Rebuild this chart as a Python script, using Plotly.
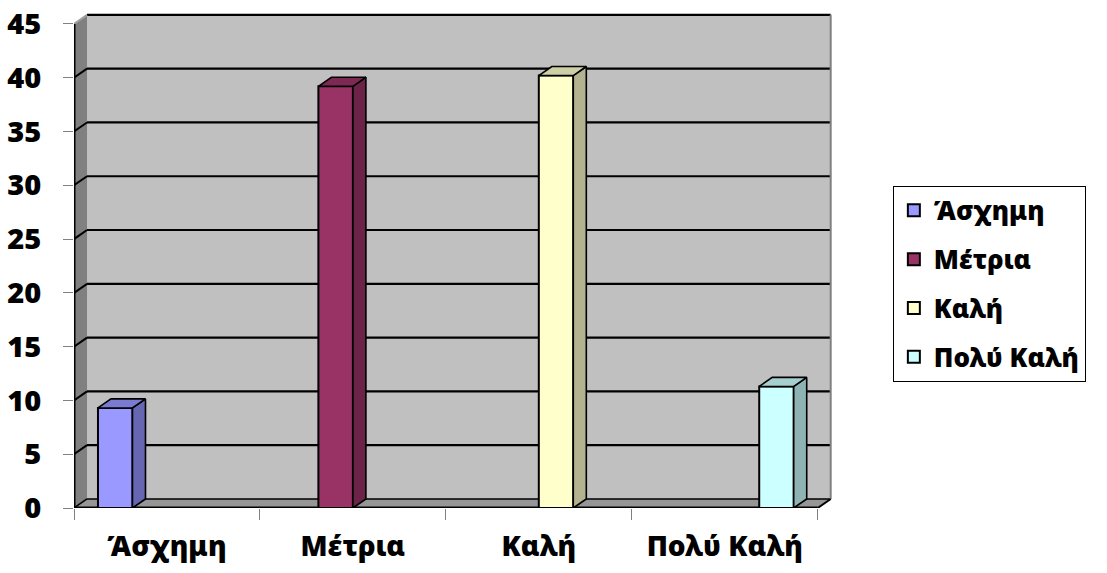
import plotly.graph_objects as go

# ---- data ----
categories = ["Άσχημη", "Μέτρια", "Καλή", "Πολύ Καλή"]
series_names = ["Άσχημη", "Μέτρια", "Καλή", "Πολύ Καλή"]
asxhmh = [9.3, None, None, None]
metria = [None, 39.2, None, None]
kali = [None, None, 40.2, None]
poly_kali = [None, None, None, 11.3]
series_values = [asxhmh, metria, kali, poly_kali]
y_ticks = [0, 5, 10, 15, 20, 25, 30, 35, 40, 45]

# ---- styling ----
front_colors = ["#9999FF", "#993366", "#FFFFCC", "#CCFFFF"]
side_colors = ["#6666B3", "#6B2447", "#B3B38F", "#8FB3B3"]
top_colors = ["#7A7AD1", "#7D2954", "#CFCFA6", "#A6CFCF"]
FONT = "Noto Sans"
WEIGHT = 900
DX, DY = 0.07, 0.84          # depth offset (x in category units, y in value units)
GAP = 0.258
W = (1 - GAP) / 4
START = -(1 - GAP) / 2
YMAX = y_ticks[-1]
XL, XR = -0.5, len(categories) - 0.5

xpos = list(range(len(categories)))

fig = go.Figure()

for k, (name, vals) in enumerate(zip(series_names, series_values)):
    off = START + k * W
    fig.add_trace(go.Bar(
        x=xpos, y=vals, name=name, width=W, offset=off,
        marker=dict(color=front_colors[k], line=dict(color="black", width=2)),
        legendgroup=name, hoverinfo="y",
    ))
    for xi, v in zip(xpos, vals):
        if v is None:
            continue
        x0 = xi + off
        x1 = x0 + W
        # side face
        fig.add_trace(go.Scatter(
            x=[x1, x1 + DX, x1 + DX, x1, x1], y=[0, DY, v + DY, v, 0],
            mode="lines", fill="toself", fillcolor=side_colors[k],
            line=dict(color="black", width=1.6), showlegend=False, hoverinfo="skip"))
        # top face
        fig.add_trace(go.Scatter(
            x=[x0, x0 + DX, x1 + DX, x1, x0], y=[v, v + DY, v + DY, v, v],
            mode="lines", fill="toself", fillcolor=top_colors[k],
            line=dict(color="black", width=1.6), showlegend=False, hoverinfo="skip"))

shapes = []
# back wall
shapes.append(dict(type="rect", xref="x", yref="y", x0=XL + DX, x1=XR + DX, y0=DY, y1=YMAX + DY,
                   fillcolor="#C0C0C0", line=dict(width=0), layer="below"))
# left wall
shapes.append(dict(type="path", xref="x", yref="y",
                   path=f"M {XL},0 L {XL+DX},{DY} L {XL+DX},{YMAX+DY} L {XL},{YMAX} Z",
                   fillcolor="#808080", line=dict(width=0), layer="below"))
# floor
shapes.append(dict(type="path", xref="x", yref="y",
                   path=f"M {XL},0 L {XR},0 L {XR+DX},{DY} L {XL+DX},{DY} Z",
                   fillcolor="#969696", line=dict(width=0), layer="below"))
# gridlines on back wall + diagonals on left wall
for v in y_ticks[1:]:
    shapes.append(dict(type="line", xref="x", yref="y", x0=XL + DX, x1=XR + DX, y0=v + DY, y1=v + DY,
                       line=dict(color="black", width=2.2), layer="below"))
    shapes.append(dict(type="line", xref="x", yref="y", x0=XL, x1=XL + DX, y0=v, y1=v + DY,
                       line=dict(color="black" if v < YMAX else "#A0A0A0", width=2), layer="below"))
# floor back edge
shapes.append(dict(type="line", xref="x", yref="y", x0=XL + DX, x1=XR + DX, y0=DY, y1=DY,
                   line=dict(color="black", width=1.5), layer="below"))
shapes.append(dict(type="line", xref="x", yref="y", x0=XL, x1=XL + DX, y0=0, y1=DY,
                   line=dict(color="black", width=1.5), layer="below"))
# back wall right edge
shapes.append(dict(type="line", xref="x", yref="y", x0=XR + DX, x1=XR + DX, y0=DY, y1=YMAX + DY,
                   line=dict(color="#808080", width=2), layer="below"))
# floor right diagonal
shapes.append(dict(type="line", xref="x", yref="y", x0=XR, x1=XR + DX, y0=0, y1=DY,
                   line=dict(color="black", width=2), layer="below"))
# front axes lines
shapes.append(dict(type="line", xref="x", yref="y", x0=XL, x1=XL, y0=0, y1=YMAX,
                   line=dict(color="black", width=3), layer="below"))
shapes.append(dict(type="line", xref="x", yref="y", x0=XL, x1=XR, y0=0, y1=0,
                   line=dict(color="black", width=3), layer="below"))

fig.update_layout(
    width=1107, height=573,
    margin=dict(l=74, r=267, t=11, b=65, autoexpand=False),
    paper_bgcolor="white", plot_bgcolor="white",
    barmode="group",
    shapes=shapes,
    font=dict(family=FONT, color="black"),
    xaxis=dict(range=[XL, XR + 0.12], tickmode="array", tickvals=xpos, ticktext=categories,
               ticks="", showgrid=False, zeroline=False, showline=False, automargin=False,
               tickfont=dict(family=FONT, size=28, weight=WEIGHT, color="black"),
               ticklabelstandoff=19,
               minor=dict(tickmode="array", tickvals=[i - 0.5 for i in range(len(categories) + 1)],
                          ticks="outside", ticklen=11, tickcolor="#808080", tickwidth=1, showgrid=False)),
    yaxis=dict(range=[0, 46.2], tickmode="array", tickvals=y_ticks,
               ticks="outside", ticklen=10, tickcolor="#808080", tickwidth=1,
               showgrid=False, zeroline=False, showline=False, automargin=False,
               tickfont=dict(family=FONT, size=29, weight=WEIGHT, color="black"),
               ticklabelstandoff=16),
    legend=dict(x=1.069, y=0.648, xanchor="left", yanchor="top",
                bordercolor="black", borderwidth=1, bgcolor="white",
                font=dict(family=FONT, size=26, weight=WEIGHT, color="black"),
                tracegroupgap=12, itemwidth=30),
)

fig.write_html("out.html")
